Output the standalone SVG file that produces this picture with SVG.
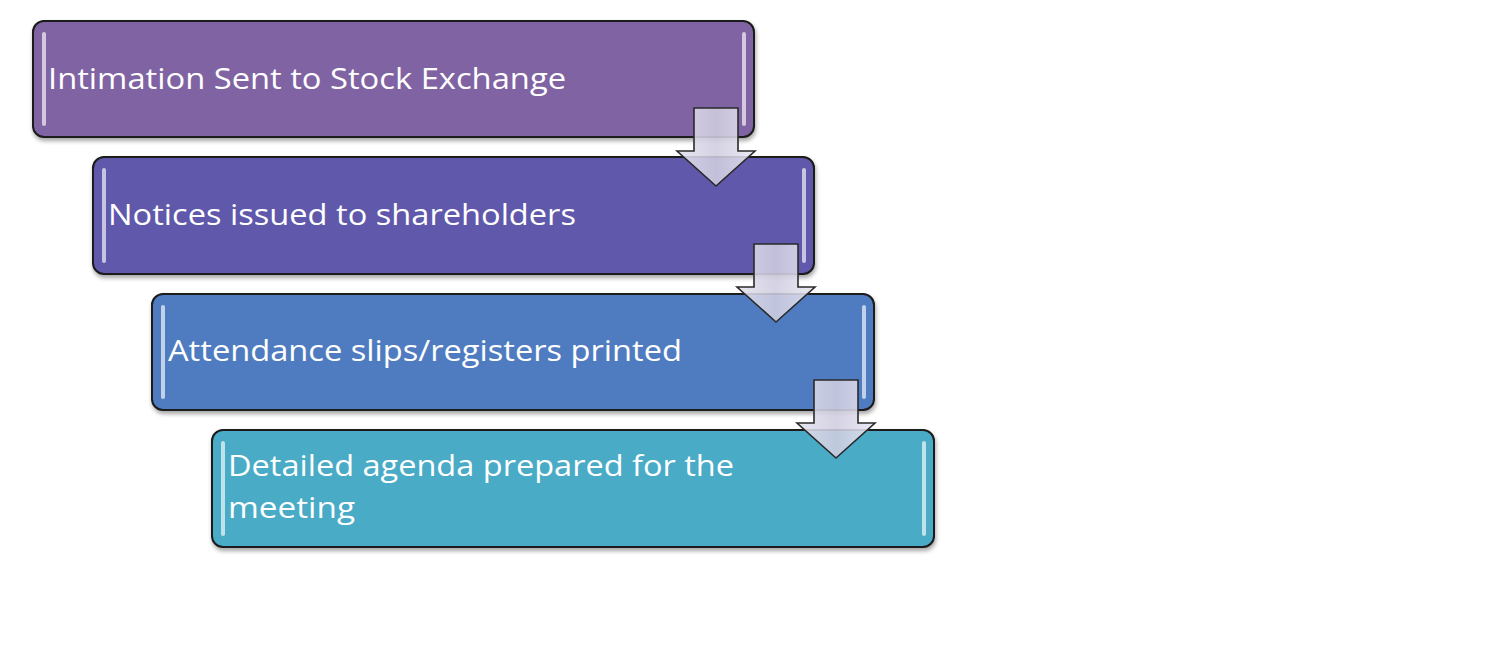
<svg xmlns="http://www.w3.org/2000/svg" width="1504" height="654" viewBox="0 0 1504 654">
<style>
.box{stroke:#1a1a1a;stroke-width:2}
.hl{fill:#ffffff;opacity:0.65}
.lbl{font-family:"Open Sans","Liberation Sans",Arial,sans-serif;font-size:29px;fill:#ffffff}
.arr{fill:url(#ag);stroke:#2a2a2a;stroke-width:1.6;fill-opacity:0.88}
</style>
<defs>
<filter id="sh" x="-5%" y="-10%" width="110%" height="125%">
<feDropShadow dx="1" dy="3" stdDeviation="2" flood-color="#000" flood-opacity="0.35"/>
</filter>
<linearGradient id="ag" x1="0" y1="0" x2="1" y2="0">
<stop offset="0" stop-color="#e4e2ee"/>
<stop offset="0.5" stop-color="#cfcde0"/>
<stop offset="1" stop-color="#e8e6f2"/>
</linearGradient>
</defs>
<rect width="1504" height="654" fill="#ffffff"/>
<g id="node1">
<rect class="box" x="33" y="21" width="721" height="116" rx="11" fill="#8064a2" filter="url(#sh)"/>
<rect class="hl" x="42" y="32" width="4" height="94" rx="2"/>
<rect class="hl" x="742" y="32" width="4" height="94" rx="2"/>
<text class="lbl" x="48" y="89" textLength="518" lengthAdjust="spacingAndGlyphs">Intimation Sent to Stock Exchange</text>
</g>
<g id="node2">
<rect class="box" x="93" y="157" width="721" height="117" rx="11" fill="#5e58ab" filter="url(#sh)"/>
<rect class="hl" x="102" y="168" width="4" height="95" rx="2"/>
<rect class="hl" x="802" y="168" width="4" height="95" rx="2"/>
<text class="lbl" x="108" y="225" textLength="468" lengthAdjust="spacingAndGlyphs">Notices issued to shareholders</text>
</g>
<g id="node3">
<rect class="box" x="152" y="294" width="722" height="116" rx="11" fill="#4f7cc0" filter="url(#sh)"/>
<rect class="hl" x="161" y="305" width="4" height="94" rx="2"/>
<rect class="hl" x="862" y="305" width="4" height="94" rx="2"/>
<text class="lbl" x="168" y="361" textLength="514" lengthAdjust="spacingAndGlyphs">Attendance slips/registers printed</text>
</g>
<g id="node4">
<rect class="box" x="212" y="430" width="722" height="117" rx="11" fill="#4aabc6" filter="url(#sh)"/>
<rect class="hl" x="221" y="441" width="4" height="95" rx="2"/>
<rect class="hl" x="922" y="441" width="4" height="95" rx="2"/>
<text class="lbl" x="228" y="476" textLength="506" lengthAdjust="spacingAndGlyphs">Detailed agenda prepared for the</text>
<text class="lbl" x="228" y="518" textLength="127" lengthAdjust="spacingAndGlyphs">meeting</text>
</g>
<g id="connectors">
<path class="arr" d="M694,108 H738 V151 H755 L716,186 L677,151 H694 Z"/>
<path class="arr" d="M754,244 H798 V287 H815 L776,322 L737,287 H754 Z"/>
<path class="arr" d="M814,380 H858 V423 H875 L836,458 L797,423 H814 Z"/>
</g>
</svg>
